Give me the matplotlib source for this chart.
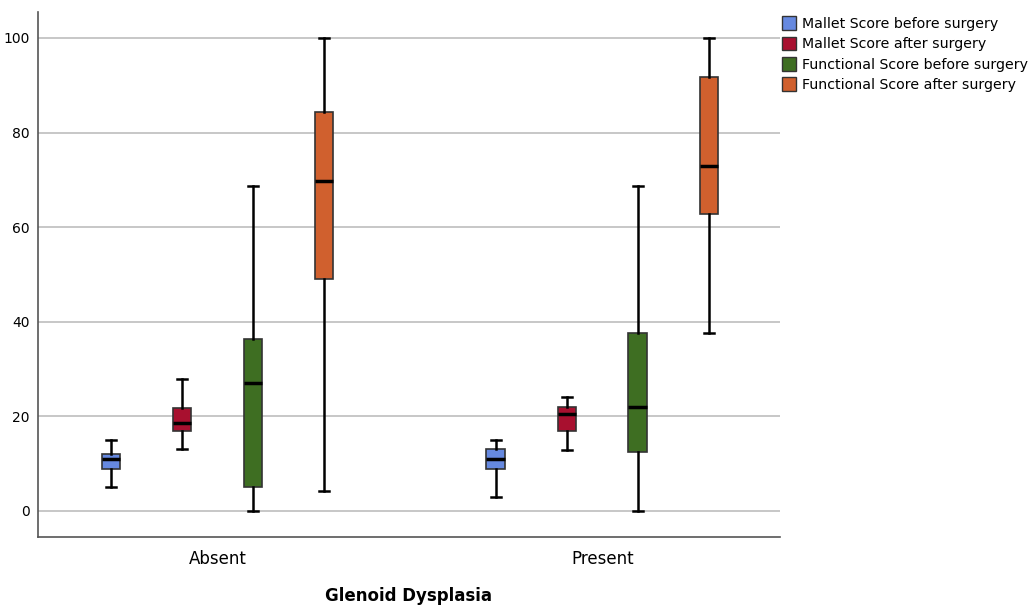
import numpy as np
import matplotlib.pyplot as plt
from matplotlib.patches import Patch

# --- data (min, Q1, median, Q3, max) ---
groups = ["Absent", "Present"]
series = ["Mallet Score before surgery", "Mallet Score after surgery",
          "Functional Score before surgery", "Functional Score after surgery"]
colors = ["#6689e0", "#a8102f", "#3e6e22", "#d0602e"]

mallet_before = [[5.0, 8.9, 11.0, 12.0, 15.0], [3.0, 8.9, 11.0, 13.1, 15.0]]
mallet_after = [[13.1, 16.9, 18.6, 21.8, 27.9], [12.9, 16.9, 20.5, 22.0, 24.1]]
func_before = [[0.0, 5.1, 27.1, 36.4, 68.7], [0.0, 12.5, 22.0, 37.6, 68.7]]
func_after = [[4.2, 49.0, 69.8, 84.4, 100.0], [37.6, 62.8, 72.9, 91.8, 100.0]]
all_series = [mallet_before, mallet_after, func_before, func_after]

offsets = [-0.277, -0.092, 0.092, 0.277]
box_w = 0.048

fig = plt.figure(figsize=(10.33, 6.07), dpi=100)
ax = fig.add_axes([0.0368, 0.1153, 0.718, 0.865])

ax.set_ylim(-5.5, 105.5)
ax.set_xlim(-0.466, 1.461)
ax.set_yticks([0, 20, 40, 60, 80, 100])
ax.yaxis.grid(True, color="#bdbdbd", linewidth=1.2)
ax.set_axisbelow(True)

for s, (vals, col) in enumerate(zip(all_series, colors)):
    stats = []
    pos = []
    for g, v in enumerate(vals):
        stats.append(dict(whislo=v[0], q1=v[1], med=v[2], q3=v[3], whishi=v[4], fliers=[]))
        pos.append(g + offsets[s])
    ax.bxp(stats, positions=pos, widths=box_w, patch_artist=True, showfliers=False,
           manage_ticks=False, capwidths=box_w * 0.55,
           boxprops=dict(facecolor=col, edgecolor="#333333", linewidth=1.2),
           medianprops=dict(color="black", linewidth=2.5),
           whiskerprops=dict(color="black", linewidth=1.8),
           capprops=dict(color="black", linewidth=1.8))

ax.set_xticks([0, 1])
ax.set_xticklabels(groups, fontsize=12)
ax.tick_params(axis="x", length=0, pad=9)
ax.tick_params(axis="y", length=0, labelsize=10, pad=6)
for sp in ["top", "right"]:
    ax.spines[sp].set_visible(False)
for sp in ["left", "bottom"]:
    ax.spines[sp].set_color("#555555")
    ax.spines[sp].set_linewidth(1.2)

ax.set_xlabel("Glenoid Dysplasia", fontsize=12, fontweight="bold", labelpad=14)

handles = [Patch(facecolor=c, edgecolor="#333333", label=l) for c, l in zip(colors, series)]
fig.legend(handles=handles, loc="upper left", bbox_to_anchor=(0.757, 0.973), frameon=False,
           fontsize=10.2, handlelength=1.0, handleheight=1.1, handletextpad=0.4,
           labelspacing=0.4, borderaxespad=0, borderpad=0)

plt.savefig("out.png", dpi=100)
